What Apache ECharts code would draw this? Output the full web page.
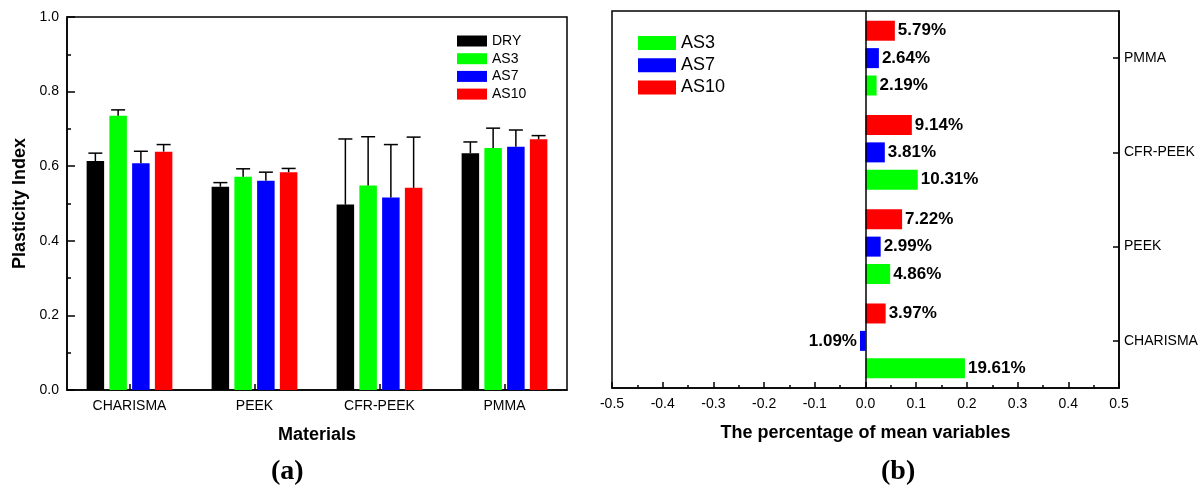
<!DOCTYPE html>
<html>
<head>
<meta charset="utf-8">
<script src="https://cdn.jsdelivr.net/npm/echarts@6/dist/echarts.min.js"></script>
<style>
  html, body { margin: 0; padding: 0; background: #fff; }
  #chart { width: 1204px; height: 492px; }
</style>
</head>
<body>
<div id="chart"></div>
<script>
// ---------- data ----------
const categories = ['CHARISMA', 'PEEK', 'CFR-PEEK', 'PMMA'];
const groupsA = ['DRY', 'AS3', 'AS7', 'AS10'];
const groupsB = ['AS3', 'AS7', 'AS10'];

// (a) Plasticity index means and (upper) error bars
const dryMean  = [0.614, 0.545, 0.497, 0.635];
const dryErr   = [0.021, 0.011, 0.176, 0.030];
const as3Mean  = [0.735, 0.572, 0.548, 0.649];
const as3Err   = [0.016, 0.021, 0.131, 0.053];
const as7Mean  = [0.608, 0.561, 0.516, 0.652];
const as7Err   = [0.032, 0.023, 0.142, 0.045];
const as10Mean = [0.639, 0.584, 0.542, 0.672];
const as10Err  = [0.019, 0.010, 0.136, 0.010];

// (b) percentage of mean variables (fraction)
const as3Pct  = [0.1961, 0.0486, 0.1031, 0.0219];
const as7Pct  = [-0.0109, 0.0299, 0.0381, 0.0264];
const as10Pct = [0.0397, 0.0722, 0.0914, 0.0579];

const yTicksA = [0, 0.2, 0.4, 0.6, 0.8, 1.0];
const xTicksB = [-0.5, -0.4, -0.3, -0.2, -0.1, 0, 0.1, 0.2, 0.3, 0.4, 0.5];

// ---------- styling ----------
const colors = { DRY: '#000000', AS3: '#00ff00', AS7: '#0000ff', AS10: '#ff0000' };
const FONT = 'Liberation Sans, Arial, sans-serif';
const BAR_W_A = 17.5, BAR_GAP_A = '30%';

const meansA = { DRY: dryMean, AS3: as3Mean, AS7: as7Mean, AS10: as10Mean };
const errsA  = { DRY: dryErr, AS3: as3Err, AS7: as7Err, AS10: as10Err };
const pctB   = { AS3: as3Pct, AS7: as7Pct, AS10: as10Pct };

const series = [];
groupsA.forEach((g, k) => {
  series.push({
    name: g, type: 'bar', xAxisIndex: 0, yAxisIndex: 0,
    barWidth: BAR_W_A, barGap: BAR_GAP_A,
    itemStyle: { color: colors[g] },
    data: meansA[g]
  });
});
groupsA.forEach((g, k) => {
  series.push({
    type: 'custom', xAxisIndex: 0, yAxisIndex: 0, silent: true, z: 5,
    data: meansA[g].map((v, i) => [i, v, errsA[g][i]]),
    renderItem: function (params, api) {
      const layout = api.barLayout({ count: groupsA.length, barWidth: BAR_W_A, barGap: BAR_GAP_A });
      const off = layout[k].offsetCenter;
      const base = api.coord([api.value(0), api.value(1)]);
      const top = api.coord([api.value(0), api.value(1) + api.value(2)]);
      const x = base[0] + off;
      const st = { stroke: '#000', lineWidth: 1.5 };
      return { type: 'group', children: [
        { type: 'line', shape: { x1: x, y1: base[1], x2: x, y2: top[1] }, style: st },
        { type: 'line', shape: { x1: x - 7, y1: top[1], x2: x + 7, y2: top[1] }, style: st }
      ]};
    }
  });
});
// (b) horizontal bars; order so that AS3 is at bottom of each group
['AS10', 'AS7', 'AS3'].forEach((g) => {
  series.push({
    name: g, type: 'bar', xAxisIndex: 1, yAxisIndex: 1,
    barWidth: 20, barGap: '37%',
    itemStyle: { color: colors[g] },
    label: {
      show: true, position: 'right', distance: 3,
      color: '#000', fontFamily: FONT, fontWeight: 'bold', fontSize: 17,
      formatter: (p) => Math.abs(p.value * 100).toFixed(2) + '%'
    },
    data: pctB[g].map((v) => ({ value: v, label: { position: v < 0 ? 'left' : 'right' } })),
    markLine: g === 'AS3' ? {
      silent: true, symbol: 'none', label: { show: false },
      lineStyle: { color: '#000', width: 1.5, type: 'solid' },
      data: [{ xAxis: 0 }]
    } : undefined
  });
});

const axisLine = { show: true, onZero: false, lineStyle: { color: '#000', width: 1.5 } };
const tickLbl = { color: '#000', fontFamily: FONT, fontSize: 14 };
const nameSt = { color: '#000', fontFamily: FONT, fontSize: 18, fontWeight: 'bold' };

const option = {
  animation: false,
  backgroundColor: '#fff',
  grid: [
    { left: 67, top: 17, width: 500, height: 373, show: true, borderColor: '#000', borderWidth: 1.5, backgroundColor: 'transparent' },
    { left: 612, top: 11, width: 507, height: 377, show: true, borderColor: '#000', borderWidth: 1.5, backgroundColor: 'transparent' }
  ],
  legend: [
    {
      data: groupsA, orient: 'vertical', left: 457, top: 34, padding: 0,
      itemWidth: 30, itemHeight: 11, itemGap: 3.7, icon: 'rect',
      textStyle: { color: '#000', fontFamily: FONT, fontSize: 14, lineHeight: 14 },
      selectedMode: false
    },
    {
      data: groupsB, orient: 'vertical', left: 638, top: 34, padding: 0,
      itemWidth: 38, itemHeight: 14, itemGap: 4.2, icon: 'rect',
      textStyle: { color: '#000', fontFamily: FONT, fontSize: 18, lineHeight: 18 },
      selectedMode: false
    }
  ],
  xAxis: [
    {
      gridIndex: 0, type: 'category', data: categories, boundaryGap: true,
      axisLine: axisLine,
      axisTick: { show: true, inside: true, alignWithLabel: true, length: 6, lineStyle: { color: '#000', width: 1.5 } },
      axisLabel: Object.assign({ margin: 9 }, tickLbl),
      splitLine: { show: false },
      name: 'Materials', nameLocation: 'middle', nameGap: 36, nameTextStyle: nameSt
    },
    {
      gridIndex: 1, type: 'value', min: xTicksB[0], max: xTicksB[xTicksB.length - 1], interval: 0.1,
      axisLine: axisLine,
      axisTick: { show: true, inside: true, length: 6, lineStyle: { color: '#000', width: 1.5 } },
      minorTick: { show: true, splitNumber: 2, length: 3, lineStyle: { color: '#000', width: 1.5 } },
      axisLabel: Object.assign({ margin: 9, formatter: (v) => v.toFixed(1) }, tickLbl),
      splitLine: { show: false },
      name: 'The percentage of mean variables', nameLocation: 'middle', nameGap: 36, nameTextStyle: nameSt
    }
  ],
  yAxis: [
    {
      gridIndex: 0, type: 'value', min: yTicksA[0], max: yTicksA[yTicksA.length - 1], interval: 0.2,
      axisLine: axisLine,
      axisTick: { show: true, inside: true, length: 8, lineStyle: { color: '#000', width: 1.5 } },
      minorTick: { show: true, splitNumber: 2, length: 4, lineStyle: { color: '#000', width: 1.5 } },
      axisLabel: Object.assign({ margin: 8, formatter: (v) => v.toFixed(1) }, tickLbl),
      splitLine: { show: false },
      name: 'Plasticity Index', nameLocation: 'middle', nameRotate: 90, nameGap: 38, nameTextStyle: nameSt
    },
    {
      gridIndex: 1, type: 'category', data: categories, position: 'right', boundaryGap: true,
      axisLine: axisLine,
      axisTick: { show: true, inside: true, alignWithLabel: true, length: 6, lineStyle: { color: '#000', width: 1.5 } },
      axisLabel: Object.assign({ margin: 5 }, tickLbl),
      splitLine: { show: false }
    }
  ],
  graphic: [
    { type: 'text', left: 271, top: 458, style: { text: '(a)', fill: '#000', font: 'bold 28px "Liberation Serif", "Times New Roman", serif' } },
    { type: 'text', left: 881, top: 458, style: { text: '(b)', fill: '#000', font: 'bold 28px "Liberation Serif", "Times New Roman", serif' } }
  ],
  series: series
};

const chart = echarts.init(document.getElementById('chart'), null, { renderer: 'canvas' });
chart.setOption(option);
</script>
</body>
</html>
